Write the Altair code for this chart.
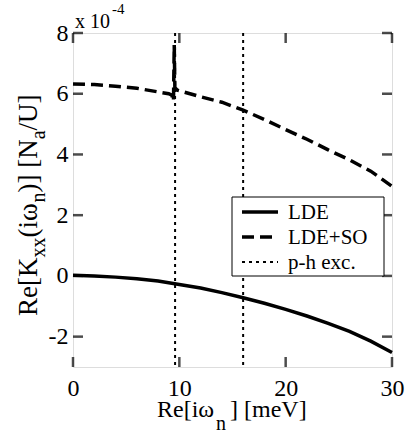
import altair as alt
import pandas as pd

# ---- data, y in units of 1e-4 ----
lde_x = [0, 2, 4, 6, 8, 10, 12, 14, 16, 18, 20, 22, 24, 26, 28, 30]
lde_y = [0.02, 0.0, -0.04, -0.09, -0.17, -0.28, -0.4, -0.55, -0.72, -0.9, -1.1,
         -1.32, -1.56, -1.83, -2.15, -2.52]

so_x = [0, 2, 4, 6, 8, 9.0, 9.3, 9.45, 9.52, 9.58, 9.8, 10.5, 12, 14, 16, 18,
        20, 22, 24, 26, 28, 30]
so_y = [6.32, 6.3, 6.25, 6.18, 6.06, 6.0, 5.95, 5.75, 7.6, 6.2, 6.12, 6.05,
        5.9, 5.72, 5.46, 5.15, 4.82, 4.5, 4.15, 3.82, 3.45, 2.95]

ph_exc = [9.6, 16.0]

x_ticks = [0, 10, 20, 30]
y_ticks = [-2, 0, 2, 4, 6, 8]

series = ["LDE", "LDE+SO", "p-h exc."]

# ---- layout ----
W, H = 319, 334
FONT = "Liberation Serif"

xscale = alt.Scale(domain=[0, 30], nice=False, zero=False)
yscale = alt.Scale(domain=[-3, 8], nice=False, zero=False)
xaxis = alt.Axis(values=x_ticks, title=None, grid=False, ticks=False, domain=False,
                 labelFont=FONT, labelFontSize=24, labelPadding=9,
                 labelFlush=False, labelColor="black")
yaxis = alt.Axis(values=y_ticks, title=None, grid=False, ticks=False, domain=False,
                 labelFont=FONT, labelFontSize=24, labelPadding=5,
                 labelFlush=False, labelColor="black",
                 labelExpr="'' + datum.value")


def X():
    return alt.X("x:Q", scale=xscale, axis=xaxis)


def Y():
    return alt.Y("y:Q", scale=yscale, axis=yaxis)


df_lde = pd.DataFrame({"x": lde_x, "y": lde_y})
df_so = pd.DataFrame({"x": so_x, "y": so_y})
df_ph = pd.DataFrame({"x": ph_exc})

lde_line = alt.Chart(df_lde).mark_line(color="black", strokeWidth=3.5).encode(x=X(), y=Y())
so_line = alt.Chart(df_so).mark_line(color="black", strokeWidth=3.5,
                                     strokeDash=[12, 6]).encode(x=X(), y=Y())
ph_rules = alt.Chart(df_ph).mark_rule(color="black", strokeWidth=2,
                                      strokeDash=[3, 4]).encode(x=X())

# inward ticks on all four sides
df_xt = pd.DataFrame({"x": x_ticks})
df_yt = pd.DataFrame({"y": y_ticks})
xt_bottom = alt.Chart(df_xt).mark_tick(color="black", orient="vertical", size=10,
                                       thickness=2.5, yOffset=-5).encode(x=X(), y=alt.value(H))
xt_top = alt.Chart(df_xt).mark_tick(color="black", orient="vertical", size=10,
                                    thickness=2.5, yOffset=5).encode(x=X(), y=alt.value(0))
yt_left = alt.Chart(df_yt).mark_tick(color="black", orient="horizontal", size=10,
                                     thickness=2.5, xOffset=5).encode(y=Y(), x=alt.value(0))
yt_right = alt.Chart(df_yt).mark_tick(color="black", orient="horizontal", size=10,
                                      thickness=2.5, xOffset=-5).encode(y=Y(), x=alt.value(W))

one = pd.DataFrame({"a": [0]})


def txt(s, px, py, size, angle=0, align="left", baseline="alphabetic"):
    kw = dict(text=s, font=FONT, fontSize=size, color="black", align=align,
              baseline=baseline)
    if angle:
        kw["angle"] = angle
    return alt.Chart(one).mark_text(**kw).encode(x=alt.value(px), y=alt.value(py))


# x-axis title: Re[iω_n] [meV]
xtitle = [
    txt("Re[iω", 84, 384, 24),
    txt("n", 143, 397, 20),
    txt("] [meV]", 157, 384, 24),
]

# y-axis title: Re[K_xx(iω_n)] [N_a/U], rotated, reading upward
yb, ys = -36, -28
yt0 = 283
ytitle = [
    txt("Re[K", yb, yt0, 27, angle=270),
    txt("xx", ys, yt0 - 58.5, 20, angle=270),
    txt("(iω", yb, yt0 - 78.5, 27, angle=270),
    txt("n", ys, yt0 - 113.5, 20, angle=270),
    txt(")] [N", yb, yt0 - 123.5, 27, angle=270),
    txt("a", ys, yt0 - 176.7, 20, angle=270),
    txt("/U]", yb, yt0 - 185.6, 27, angle=270),
]

# exponent label
expo = [
    txt("x 10", 2, -5, 20),
    txt("-4", 39, -19, 15),
]

# legend box (manual)
lx0, ly0, lx1, ly1 = 159, 164, 311, 243
legend_box = alt.Chart(one).mark_rect(fill="white", stroke="black", strokeWidth=1).encode(
    x=alt.value(lx0), x2=alt.value(lx1), y=alt.value(ly0), y2=alt.value(ly1))
row_y = [179, 204, 229]
leg_styles = [
    dict(strokeWidth=3.5),
    dict(strokeWidth=3.5, strokeDash=[12, 6]),
    dict(strokeWidth=2, strokeDash=[3, 4]),
]
legend_layers = [legend_box]
for name, ry, st in zip(series, row_y, leg_styles):
    legend_layers.append(
        alt.Chart(one).mark_rule(color="black", **st).encode(
            x=alt.value(169), x2=alt.value(205), y=alt.value(ry)))
    legend_layers.append(txt(name, 215, ry + 7, 21))

chart = alt.layer(
    ph_rules, lde_line, so_line, xt_bottom, xt_top, yt_left, yt_right,
    *legend_layers, *xtitle, *ytitle, *expo
).properties(
    width=W, height=H,
    autosize=alt.AutoSizeParams(type="none"),
    padding={"left": 73, "top": 33, "right": 17, "bottom": 65},
).configure_view(
    stroke="black", strokeWidth=3.5
).configure(background="white")

chart.save("out.html", embed_options={"renderer": "svg", "actions": False})
